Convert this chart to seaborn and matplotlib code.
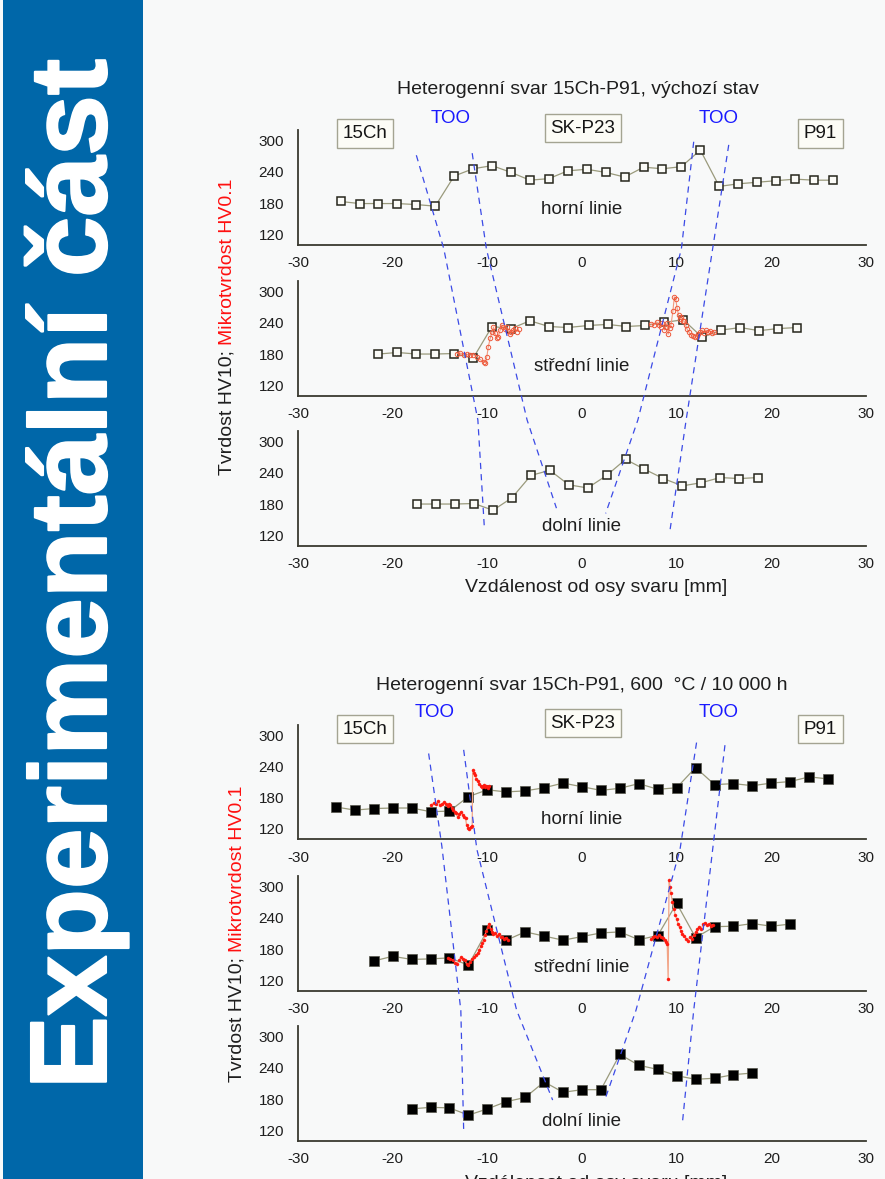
import numpy as np
import pandas as pd
import matplotlib
matplotlib.use("Agg")
import matplotlib.pyplot as plt
from matplotlib.lines import Line2D
from matplotlib.patches import Rectangle
from matplotlib.ticker import MultipleLocator
import matplotlib.patheffects as pe
import seaborn as sns

sns.set_theme(style="white")
plt.rcParams['font.family'] = ['Liberation Sans', 'DejaVu Sans']
plt.rcParams['axes.unicode_minus'] = False

# ---------------- data: initial state (vychozi stav) ----------------
top_h_x = [-25.5, -23.5, -21.5, -19.5, -17.5, -15.5, -13.5, -11.5, -9.5, -7.5, -5.5, -3.5, -1.5,
           0.5, 2.5, 4.5, 6.5, 8.5, 10.5, 12.5, 14.5, 16.5, 18.5, 20.5, 22.5, 24.5, 26.5]
top_h_y = [183, 179, 179, 179, 177, 174, 232, 246, 252, 239, 224, 227, 242,
           245, 239, 230, 249, 246, 250, 282, 212, 217, 220, 223, 226, 224, 224]

top_m_x = [-21.5, -19.5, -17.5, -15.5, -13.5, -11.5, -9.5, -7.5, -5.5, -3.5, -1.5,
           0.7, 2.7, 4.7, 6.7, 8.7, 10.7, 12.7, 14.7, 16.7, 18.7, 20.7, 22.7]
top_m_y = [180, 183, 180, 180, 181, 172, 233, 229, 244, 233, 231,
           235, 237, 233, 235, 241, 246, 212, 226, 231, 225, 229, 231]

top_d_x = [-17.4, -15.4, -13.4, -11.4, -9.4, -7.4, -5.4, -3.4, -1.4, 0.6,
           2.6, 4.6, 6.6, 8.6, 10.6, 12.6, 14.6, 16.6, 18.6]
top_d_y = [180, 180, 180, 181, 168, 192, 235, 245, 217, 211,
           235, 266, 247, 229, 215, 221, 231, 229, 231]

# microhardness HV0.1 (middle line)
top_mic_l_x = [-13.2, -12.9, -12.5, -12.2, -11.8, -11.5, -11.1, -10.8, -10.4, -10.2, -10.05, -9.9,
               -9.7, -9.5, -9.35, -9.2, -9.0, -8.85, -8.65, -8.5, -8.3, -8.1, -7.95, -7.8, -7.6,
               -7.45, -7.25, -7.1, -6.9, -6.7]
top_mic_l_y = [181, 182, 179, 180, 178, 179, 175, 170, 165, 163, 175, 194,
               210, 223, 232, 220, 210, 213, 226, 236, 232, 228, 232, 225, 218,
               222, 226, 230, 223, 228]
top_mic_r_x = [7.3, 7.6, 7.9, 8.1, 8.3, 8.5, 8.7, 8.85, 9.0, 9.1, 9.25, 9.4, 9.6, 9.75, 9.9,
               10.05, 10.2, 10.35, 10.5, 10.65, 10.8, 10.95, 11.1, 11.3, 11.5, 11.7, 11.9,
               12.1, 12.3, 12.5, 12.7, 12.9, 13.1, 13.3, 13.5, 13.7, 13.9]
top_mic_r_y = [238, 236, 242, 236, 232, 240, 226, 232, 240, 218, 230, 236, 262, 290, 286,
               268, 255, 248, 252, 244, 243, 236, 228, 222, 217, 214, 212,
               214, 219, 222, 226, 221, 226, 222, 224, 220, 222]

# ---------------- data: 600 degC / 10 000 h ----------------
bot_h_x = [-26, -24, -22, -20, -18, -16, -14, -12, -10, -8, -6, -4, -2, 0,
           2, 4, 6, 8, 10, 12, 14, 16, 18, 20, 22, 24, 26]
bot_h_y = [162, 156, 159, 160, 160, 153, 154, 182, 195, 191, 193, 199, 208, 201,
           194, 198, 207, 196, 199, 238, 205, 207, 203, 208, 211, 220, 216]

bot_m_x = [-22, -20, -18, -16, -14, -12, -10, -8, -6, -4, -2, 0,
           2, 4, 6, 8, 10, 12, 14, 16, 18, 20, 22]
bot_m_y = [157, 166, 160, 161, 163, 149, 216, 197, 213, 205, 197, 204,
           211, 213, 198, 206, 268, 202, 223, 224, 229, 224, 228]

bot_d_x = [-18, -16, -14, -12, -10, -8, -6, -4, -2, 0, 2, 4, 6, 8, 10, 12, 14, 16, 18]
bot_d_y = [161, 164, 163, 149, 161, 175, 183, 213, 193, 198, 198, 266, 245, 237, 225, 218, 220, 227, 230]

bot_mic_h_x = [-16.0, -15.6, -15.4, -15.2, -15.0, -14.8, -14.6, -14.4, -14.2, -14.05, -13.9, -13.75,
               -13.6, -13.45, -13.3, -13.15, -13.0, -12.8, -12.6, -12.45, -12.3, -12.2, -12.05,
               -11.9, -11.75, -11.6, -11.55, -11.45, -11.3, -11.15, -11.0, -10.85, -10.7, -10.55,
               -10.4, -10.25, -10.1, -9.95, -9.8]
bot_mic_h_y = [166, 169, 167, 173, 166, 168, 171, 167, 163, 168, 166, 160,
               157, 152, 150, 143, 148, 153, 147, 143, 140, 128, 122,
               120, 124, 125, 233, 228, 224, 216, 212, 206, 203, 201,
               204, 200, 202, 199, 202]

bot_mic_l_x = [-14.2, -13.9, -13.6, -13.4, -13.2, -13.0, -12.8, -12.6, -12.4, -12.2, -12.0, -11.8,
               -11.6, -11.4, -11.2, -11.0, -10.85, -10.7, -10.55, -10.4, -10.25, -10.1, -9.95,
               -9.8, -9.65, -9.5, -9.35, -9.2, -9.0, -8.8, -8.6, -8.4, -8.2, -8.0, -7.8]
bot_mic_l_y = [162, 160, 159, 154, 152, 158, 164, 161, 159, 152, 149, 155,
               161, 165, 169, 172, 178, 185, 192, 198, 207, 215, 222,
               229, 218, 212, 209, 211, 206, 208, 204, 203, 200, 202, 198]
bot_mic_r_x = [7.3, 7.55, 7.75, 7.95, 8.15, 8.35, 8.55, 8.75, 8.9, 9.0, 9.1, 9.2, 9.3, 9.4,
               9.55, 9.7, 9.85, 10.0, 10.15, 10.3, 10.45, 10.6, 10.8, 11.0, 11.2, 11.4, 11.6,
               11.8, 12.0, 12.2, 12.4, 12.6, 12.8, 13.0, 13.2, 13.4, 13.6, 13.8]
bot_mic_r_y = [200, 203, 205, 203, 207, 204, 202, 198, 194, 190, 123, 312, 300, 287,
               270, 258, 245, 238, 228, 222, 214, 209, 205, 200, 196, 204, 200,
               207, 213, 218, 222, 219, 228, 231, 226, 228, 225, 227]

# TOO boundaries: vertices as (panel, x [mm], y [HV])
top_too = [
    [(0, -17.5, 272), (0, -14.6, 92), (1, -11.0, 53), (2, -10.3, 130)],
    [(0, -11.6, 276), (0, -10.1, 92), (1, -5.8, 53), (2, -2.7, 172)],
    [(0, 11.8, 298), (0, 10.5, 92), (1, 5.9, 53), (2, 2.5, 162)],
    [(0, 15.5, 292), (0, 13.8, 92), (1, 11.0, 53), (2, 9.3, 130)],
]
bot_too = [
    [(0, -16.2, 265), (0, -14.8, 86), (1, -12.8, 62), (2, -12.5, 120)],
    [(0, -12.5, 272), (0, -11.1, 80), (1, -6.9, 62), (2, -3.1, 178)],
    [(0, 12.1, 286), (0, 10.35, 80), (1, 5.7, 62), (2, 2.5, 183)],
    [(0, 15.1, 281), (0, 13.8, 80), (1, 11.8, 62), (2, 10.6, 133)],
]

line_names = ["horní linie", "střední linie", "dolní linie"]
x_ticks = [-30, -20, -10, 0, 10, 20, 30]
y_ticks = [120, 180, 240, 300]

# ---------------- figure ----------------
W, H = 885, 1179
BG = '#f8f9f9'
fig = plt.figure(figsize=(W / 100, H / 100), dpi=100, facecolor=BG)

# sidebar
fig.add_artist(Rectangle((3 / W, 0), 140 / W, 1, transform=fig.transFigure,
                         facecolor='#0067a9', edgecolor='none', zorder=0))
fig.text(106 / W, 1 - 1089 / H, "Experimentální část", rotation=90, rotation_mode='anchor',
         ha='left', va='baseline', fontsize=78.5, fontweight='bold', color='white',
         family=['Liberation Sans', 'DejaVu Sans'],
         path_effects=[pe.withStroke(linewidth=1.5, foreground='white')])

SPINE = '#3a3a30'
LINEC = '#9a9a7c'
TOOC = '#3b4ae6'
PPU = 93.5 / 180.0


def add_panel(row300):
    top = row300 - 20 * PPU
    h = 220 * PPU
    ax = fig.add_axes([298 / W, 1 - (top + h) / H, 568 / W, h / H])
    ax.set_facecolor('none')
    ax.set_xlim(-30, 30)
    ax.set_ylim(100, 320)
    ax.set_xticks(x_ticks)
    ax.set_yticks(y_ticks)
    ax.xaxis.set_minor_locator(MultipleLocator(5))
    ax.yaxis.set_minor_locator(MultipleLocator(30))
    for s in ['top', 'right']:
        ax.spines[s].set_visible(False)
    for s in ['left', 'bottom']:
        ax.spines[s].set_color(SPINE)
        ax.spines[s].set_linewidth(1.3)
    ax.tick_params(axis='both', which='both', direction='out', colors=SPINE,
                   labelcolor='#1e1e1e', labelsize=11, width=1.1)
    ax.tick_params(axis='x', which='both', length=4.5, pad=4)
    ax.tick_params(axis='y', which='major', length=6, pad=4)
    ax.tick_params(axis='y', which='minor', length=3.5)
    ax.set_xlabel('')
    ax.set_ylabel('')
    return ax


def draw_chart(rows, hv_sets, open_marker, micro, too, title, title_y, labels_y, ylab_x, ylab_y, xlab_y):
    axes = [add_panel(r) for r in rows]
    for i, (ax, (xs, ys)) in enumerate(zip(axes, hv_sets)):
        df = pd.DataFrame({'x': xs, 'y': ys})
        if open_marker:
            sns.lineplot(data=df, x='x', y='y', ax=ax, sort=False, estimator=None, color=LINEC,
                         lw=0.9, marker='s', markersize=6.2, markerfacecolor='#fbfbf7',
                         markeredgecolor='#26261c', markeredgewidth=1.1, zorder=3)
        else:
            sns.lineplot(data=df, x='x', y='y', ax=ax, sort=False, estimator=None, color=LINEC,
                         lw=0.9, marker='s', markersize=7, markerfacecolor='black',
                         markeredgecolor='#55554a', markeredgewidth=0.5, zorder=3)
        ax.set_xlabel('')
        ax.set_ylabel('')
        ax.text(0, labels_y[i], line_names[i], ha='center', va='center', fontsize=13.5,
                color='#1e1e1e', zorder=5)
    for pidx, mx, my in micro:
        dfm = pd.DataFrame({'x': mx, 'y': my})
        if open_marker:
            sns.lineplot(data=dfm, x='x', y='y', ax=axes[pidx], sort=False, estimator=None,
                         color='#f39a80', lw=0.8, marker='o', markersize=3.2,
                         markerfacecolor='none', markeredgecolor='#ee5a3c',
                         markeredgewidth=0.7, zorder=4)
        else:
            sns.lineplot(data=dfm, x='x', y='y', ax=axes[pidx], sort=False, estimator=None,
                         color='#f2a486', lw=0.9, marker='o', markersize=2.2,
                         markerfacecolor='#ff1a10', markeredgecolor='#ff1a10',
                         markeredgewidth=0.3, zorder=4)
        axes[pidx].set_xlabel('')
        axes[pidx].set_ylabel('')

    inv = fig.transFigure.inverted()
    for verts in too:
        pts = [inv.transform(axes[p].transData.transform((vx, vy))) for p, vx, vy in verts]
        pts = np.array(pts)
        fig.add_artist(Line2D(pts[:, 0], pts[:, 1], transform=fig.transFigure, color=TOOC,
                              lw=0.9, ls=(0, (5, 4)), zorder=6))

    a0 = axes[0]
    box = dict(boxstyle='square,pad=0.3', fc='#fcfcf6', ec='#a4a492', lw=1.0)
    a0.text(-22.9, title_y[0], '15Ch', ha='center', va='center', fontsize=13.5, bbox=box,
            clip_on=False, color='#151515')
    a0.text(0.1, title_y[1], 'SK-P23', ha='center', va='center', fontsize=13.5, bbox=box,
            clip_on=False, color='#151515')
    a0.text(25.2, title_y[0], 'P91', ha='center', va='center', fontsize=13.5, bbox=box,
            clip_on=False, color='#151515')
    a0.text(title_y[3], title_y[2], 'TOO', ha='center', va='center', fontsize=13.5,
            color='#1a1aff', clip_on=False)
    a0.text(14.4, title_y[2], 'TOO', ha='center', va='center', fontsize=13.5,
            color='#1a1aff', clip_on=False)
    fig.text(title[1] / W, 1 - title[2] / H, title[0], ha='center', va='center', fontsize=14,
             color='#1e1e1e')
    fig.text(596 / W, 1 - xlab_y / H, 'Vzdálenost od osy svaru [mm]', ha='center', va='center',
             fontsize=14, color='#1e1e1e')

    # two-colour y label
    r = fig.canvas.get_renderer()
    t1 = fig.text(ylab_x / W, 0.5, 'Tvrdost HV10;', rotation=90, rotation_mode='anchor',
                  ha='left', va='center', fontsize=14, color='#1e1e1e')
    t2 = fig.text(ylab_x / W, 0.5, 'Mikrotvrdost HV0.1', rotation=90, rotation_mode='anchor',
                  ha='left', va='center', fontsize=14, color='#ff1010')
    h1 = t1.get_window_extent(r).height
    h2 = t2.get_window_extent(r).height
    gap = 5
    total = h1 + gap + h2
    y0 = (H - ylab_y) - total / 2
    t1.set_position((ylab_x / W, y0 / H))
    t2.set_position((ylab_x / W, (y0 + h1 + gap) / H))
    return axes


draw_chart(rows=[140.7, 291.7, 441.7],
           hv_sets=[(top_h_x, top_h_y), (top_m_x, top_m_y), (top_d_x, top_d_y)],
           open_marker=True,
           micro=[(1, top_mic_l_x, top_mic_l_y), (1, top_mic_r_x, top_mic_r_y)],
           too=top_too,
           title=('Heterogenní svar 15Ch-P91, výchozí stav', 578, 89),
           title_y=(314, 324, 342, -13.9),
           labels_y=(167, 156, 137),
           ylab_x=227, ylab_y=327, xlab_y=588)

draw_chart(rows=[735.3, 886.7, 1036.7],
           hv_sets=[(bot_h_x, bot_h_y), (bot_m_x, bot_m_y), (bot_d_x, bot_d_y)],
           open_marker=False,
           micro=[(0, bot_mic_h_x, bot_mic_h_y), (1, bot_mic_l_x, bot_mic_l_y),
                  (1, bot_mic_r_x, bot_mic_r_y)],
           too=bot_too,
           title=('Heterogenní svar 15Ch-P91, 600  °C / 10 000 h', 582, 685),
           title_y=(312, 323, 344, -15.6),
           labels_y=(137, 145, 137),
           ylab_x=237, ylab_y=934, xlab_y=1183)

fig.savefig('out.png', dpi=100, facecolor=BG)
